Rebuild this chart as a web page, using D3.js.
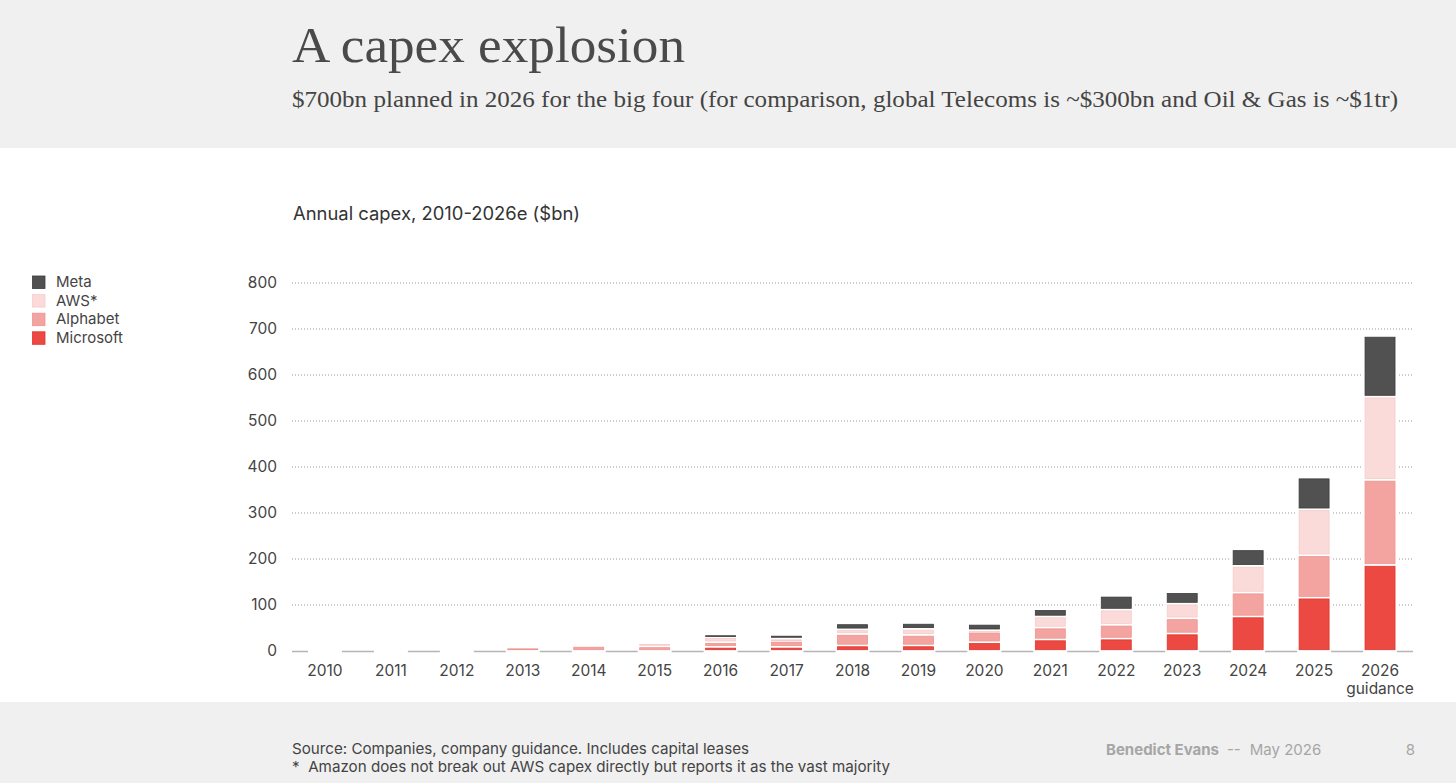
<!DOCTYPE html>
<html>
<head>
<meta charset="utf-8">
<script src="https://cdn.jsdelivr.net/npm/d3@7.9.0/dist/d3.min.js"></script>
<style>
  html, body { margin: 0; padding: 0; background: #fff; }
  svg { display: block; }
  .sans { font-family: Inter, "Noto Sans", sans-serif; }
  .serif { font-family: "Liberation Serif", serif; }
</style>
</head>
<body>
<svg id="chart" width="1456" height="783"></svg>
<script>
// years shown on the x axis
const years = ["2010", "2011", "2012", "2013", "2014", "2015", "2016", "2017", "2018",
  "2019", "2020", "2021", "2022", "2023", "2024", "2025", "2026"];

// capex per company, $bn
const microsoft = [0, 0, 0, 0, 0, 0, 9, 9, 12, 12, 19, 25, 27, 38, 75, 116, 187];
const alphabet  = [0, 0, 0, 7.5, 11, 10, 10, 13, 25, 23, 22, 26, 30, 33, 52, 92, 185];
const aws       = [0, 0, 0, 0, 0, 7, 11, 5, 10, 13, 4, 24, 33, 32, 58, 100, 181];
const meta      = [0, 0, 0, 0, 0, 0, 6, 8, 13, 13, 14, 16, 30, 25, 36, 69, 132];

const yTicks = [0, 100, 200, 300, 400, 500, 600, 700, 800];

const series = [
  { key: "Microsoft", values: microsoft, fill: "#eb4941", line: "#e0352d" },
  { key: "Alphabet", values: alphabet, fill: "#f4a4a0", line: "#ee9490" },
  { key: "AWS*", values: aws, fill: "#fadbd9", line: "#f5cdca" },
  { key: "Meta", values: meta, fill: "#515151", line: "#3c3c3c" },
];

const rows = years.map((y, i) => {
  const r = { year: y };
  series.forEach(s => { r[s.key] = s.values[i]; });
  return r;
});

const svg = d3.select("#chart");

// background bands
svg.append("rect").attr("x", 0).attr("y", 0).attr("width", 1456).attr("height", 148).attr("fill", "#f0f0f0");
svg.append("rect").attr("x", 0).attr("y", 702).attr("width", 1456).attr("height", 81).attr("fill", "#f0f0f0");

// titles
svg.append("text").attr("class", "serif")
  .attr("x", 292).attr("y", 62)
  .attr("font-size", 51).attr("fill", "#4a4a4a")
  .attr("textLength", 393).attr("lengthAdjust", "spacingAndGlyphs")
  .text("A capex explosion");

svg.append("text").attr("class", "serif")
  .attr("x", 292).attr("y", 107)
  .attr("font-size", 23).attr("fill", "#444")
  .attr("textLength", 1106).attr("lengthAdjust", "spacingAndGlyphs")
  .text("$700bn planned in 2026 for the big four (for comparison, global Telecoms is ~$300bn and Oil & Gas is ~$1tr)");

svg.append("text").attr("class", "sans")
  .attr("x", 293).attr("y", 220)
  .attr("font-size", 18).attr("fill", "#333")
  .attr("textLength", 287).attr("lengthAdjust", "spacingAndGlyphs")
  .text("Annual capex, 2010-2026e ($bn)");

// scales
const x = d3.scaleBand().domain(years).range([292, 1413]).paddingInner(0.53).paddingOuter(0.265);
const y = d3.scaleLinear().domain([0, 800]).range([651, 283]);

// grid
svg.append("g")
  .selectAll("line")
  .data(yTicks.filter(t => t > 0))
  .join("line")
  .attr("x1", 292).attr("x2", 1413)
  .attr("y1", d => y(d)).attr("y2", d => y(d))
  .attr("stroke", "#999").attr("stroke-width", 1)
  .attr("stroke-dasharray", "1,2");

// y axis labels
const yAxis = svg.append("g").attr("class", "sans")
  .attr("transform", "translate(292,0)")
  .call(d3.axisLeft(y).tickValues(yTicks).tickSize(0).tickPadding(15));
yAxis.select(".domain").remove();
yAxis.selectAll("text").attr("font-size", 15.5).attr("fill", "#444").attr("font-family", "Inter, sans-serif");

// baseline
svg.append("line")
  .attr("x1", 292).attr("x2", 1413)
  .attr("y1", y(0) + 0.5).attr("y2", y(0) + 0.5)
  .attr("stroke", "#b5b5b5").attr("stroke-width", 1.6);

// stacked bars
const stack = d3.stack().keys(series.map(s => s.key));
const stacked = stack(rows);

// white backing breaks the baseline under every bar
svg.append("g")
  .selectAll("rect")
  .data(rows)
  .join("rect")
  .attr("x", d => x(d.year) - 1.5)
  .attr("width", x.bandwidth() + 3)
  .attr("y", d => y(d3.sum(series, s => d[s.key])) - 1)
  .attr("height", d => y(0) + 2 - y(d3.sum(series, s => d[s.key])) + 1)
  .attr("fill", "#fff");

const gap = 1.3;
stacked.forEach((layer, li) => {
  const s = series[li];
  svg.append("g")
    .selectAll("rect")
    .data(layer.filter(d => d[1] - d[0] > 0))
    .join("rect")
    .attr("x", d => x(d.data.year) + 0.5)
    .attr("width", x.bandwidth() - 1)
    .attr("y", d => y(d[1]) + gap)
    .attr("height", d => Math.max(0.8, y(d[0]) - y(d[1]) - 2 * gap))
    .attr("fill", s.fill)
    .attr("stroke", s.line)
    .attr("stroke-width", 0.8);
});

// x axis labels
const xAxis = svg.append("g").attr("class", "sans")
  .attr("transform", `translate(0,${y(0)})`)
  .call(d3.axisBottom(x).tickSize(0).tickPadding(14));
xAxis.select(".domain").remove();
xAxis.selectAll("text").attr("font-size", 15.5).attr("fill", "#444").attr("font-family", "Inter, sans-serif");
xAxis.selectAll(".tick").filter(d => d === "2026")
  .append("text")
  .attr("y", 14).attr("dy", "1.9em")
  .attr("font-size", 15.5).attr("fill", "#444").attr("font-family", "Inter, sans-serif")
  .attr("text-anchor", "middle")
  .text("guidance");

// legend
const legendItems = series.slice().reverse();
const legend = svg.append("g").attr("class", "sans");
legendItems.forEach((s, i) => {
  const cy = 282 + i * 18.6;
  legend.append("rect")
    .attr("x", 32.5).attr("y", cy - 6).attr("width", 12.5).attr("height", 12.5)
    .attr("fill", s.fill).attr("stroke", s.line).attr("stroke-width", 0.8);
  legend.append("text")
    .attr("x", 56).attr("y", cy + 5)
    .attr("font-size", 15).attr("fill", "#444")
    .text(s.key);
});

// footer
const foot = svg.append("g").attr("class", "sans").attr("font-size", 15).attr("fill", "#444");
foot.append("text").attr("x", 292).attr("y", 754)
  .attr("textLength", 457).attr("lengthAdjust", "spacingAndGlyphs")
  .text("Source: Companies, company guidance. Includes capital leases");
foot.append("text").attr("x", 292).attr("y", 772).attr("xml:space", "preserve")
  .attr("textLength", 598).attr("lengthAdjust", "spacingAndGlyphs")
  .text("*  Amazon does not break out AWS capex directly but reports it as the vast majority");

const sig = svg.append("text").attr("class", "sans")
  .attr("x", 1106).attr("y", 755).attr("font-size", 15).attr("fill", "#a6a6a6");
sig.append("tspan").attr("font-weight", 700).text("Benedict Evans");
sig.append("tspan").attr("dx", 8).text("--");
sig.append("tspan").attr("dx", 9).text("May 2026");
svg.append("text").attr("class", "sans")
  .attr("x", 1415).attr("y", 755).attr("text-anchor", "end")
  .attr("font-size", 15).attr("fill", "#a6a6a6").text("8");
</script>
</body>
</html>
